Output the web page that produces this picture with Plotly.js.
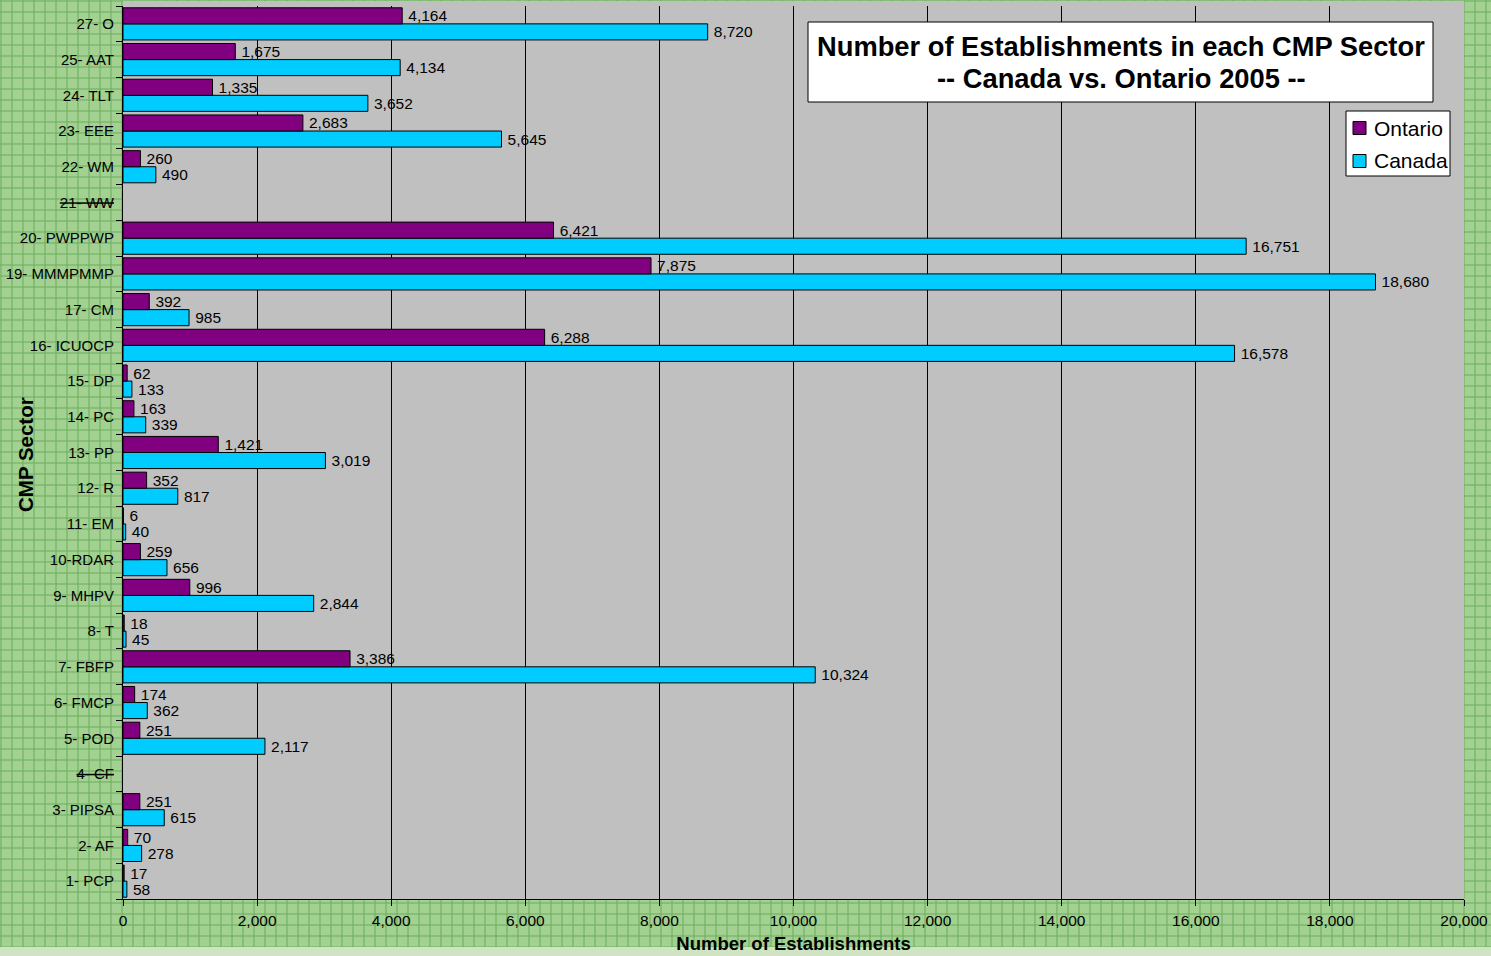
<!DOCTYPE html>
<html>
<head>
<meta charset="utf-8">
<script src="https://cdn.plot.ly/plotly-3.0.1.min.js"></script>
<style>
html, body { margin:0; padding:0; width:1491px; height:956px; overflow:hidden; }
body {
  background-color:#A3D192;
  background-image:
    linear-gradient(to bottom, rgba(0,0,0,0) 947px, #CFE4C2 947px),
    repeating-linear-gradient(to right, rgba(110,175,95,0.55) 0px, rgba(110,175,95,0.55) 2px, rgba(0,0,0,0) 2px, rgba(0,0,0,0) 11px),
    repeating-linear-gradient(to bottom, rgba(110,175,95,0.55) 0px, rgba(110,175,95,0.55) 2px, rgba(0,0,0,0) 2px, rgba(0,0,0,0) 11px);
}
#chart { width:1491px; height:956px; }
</style>
</head>
<body>
<div id="chart"></div>
<script>
// Categories from bottom to top
var categories = ["1- PCP","2- AF","3- PIPSA","4- CF","5- POD","6- FMCP","7- FBFP","8- T","9- MHPV","10-RDAR","11- EM","12- R","13- PP","14- PC","15- DP","16- ICUOCP","17- CM","19- MMMPMMP","20- PWPPWP","21- WW","22- WM","23- EEE","24- TLT","25- AAT","27- O"];
var ontario = [17,70,251,null,251,174,3386,18,996,259,6,352,1421,163,62,6288,392,7875,6421,null,260,2683,1335,1675,4164];
var canada  = [58,278,615,null,2117,362,10324,45,2844,656,40,817,3019,339,133,16578,985,18680,16751,null,490,5645,3652,4134,8720];
var struckCategories = ["4- CF","21- WW"];
var seriesNames = ["Ontario","Canada"];
var seriesColors = ["#800080","#00CCFF"];
var titleLines = ["Number of Establishments in each CMP Sector","-- Canada vs. Ontario 2005 --"];

var labels = categories.map(function(c){
  return struckCategories.indexOf(c) >= 0 ? "<span style='text-decoration:line-through'>" + c + "</span>" : c;
});

var FONT = "Arial, 'Liberation Sans', sans-serif";
var W = 1491, H = 956;
var M = {l:123, r:27, t:6, b:57};
var PW = W - M.l - M.r, PH = H - M.t - M.b;
function px(x){ return (x - M.l) / PW; }
function py(y){ return (H - M.b - y) / PH; }

function barTrace(name, vals, color){
  return {
    type:"bar", orientation:"h", name:name,
    y: labels, x: vals,
    marker:{color:color, line:{color:"#000000", width:1}},
    texttemplate:"\u2009%{x:,}", textposition:"outside", constraintext:"none", cliponaxis:false,
    textfont:{family:FONT, size:15.5, color:"#000000"},
    hoverinfo:"x+y", showlegend:false
  };
}

var traces = [
  barTrace(seriesNames[1], canada, seriesColors[1]),
  barTrace(seriesNames[0], ontario, seriesColors[0])
];

var shapes = [
  {type:"rect", xref:"paper", yref:"paper", x0:0, x1:1, y0:1, y1:py(1), fillcolor:"#C0C0C0", line:{width:0}, layer:"below"},
  // title box
  {type:"rect", xref:"paper", yref:"paper", x0:px(808), x1:px(1433), y0:py(102), y1:py(22), fillcolor:"#FFFFFF", line:{color:"#000000", width:1}},
  // legend box
  {type:"rect", xref:"paper", yref:"paper", x0:px(1346), x1:px(1450), y0:py(176), y1:py(111), fillcolor:"#FFFFFF", line:{color:"#000000", width:1}}
];
var annotations = [{
  xref:"paper", yref:"paper", x:px(25), y:py(455), xanchor:"center", yanchor:"middle",
  text:"<b>CMP Sector</b>", textangle:-90, showarrow:false,
  font:{family:FONT, size:20.5, color:"#000000"}
}];
[46, 78].forEach(function(cy, i){
  annotations.push({xref:"paper", yref:"paper", x:px(1121), y:py(cy), xanchor:"center", yanchor:"middle",
    text:"<b>" + titleLines[i] + "</b>", showarrow:false,
    font:{family:FONT, size:27.3, color:"#000000"}});
});
var legendRows = [128, 161];
seriesNames.forEach(function(n, i){
  var cy = legendRows[i];
  shapes.push({type:"rect", xref:"paper", yref:"paper", x0:px(1353), x1:px(1366), y0:py(cy+6.5), y1:py(cy-6.5),
    fillcolor:seriesColors[i], line:{color:"#000000", width:1}});
  annotations.push({xref:"paper", yref:"paper", x:px(1372), y:py(cy), xanchor:"left", yanchor:"middle",
    text:n, showarrow:false, font:{family:FONT, size:21, color:"#000000"}});
});

var layout = {
  width:W, height:H,
  margin:{l:M.l, r:M.r, t:M.t, b:M.b, pad:0},
  paper_bgcolor:"rgba(0,0,0,0)",
  plot_bgcolor:"#C0C0C0",
  barmode:"group", bargap:0.1, bargroupgap:0,
  font:{family:FONT, color:"#000000"},
  showlegend:false,
  xaxis:{
    range:[0,20000], dtick:2000, tickformat:",",
    showgrid:true, gridcolor:"#000000", gridwidth:1,
    showline:true, linecolor:"#000000", linewidth:1,
    ticks:"outside", ticklen:6, tickcolor:"#000000", tickwidth:1, ticklabelstandoff:1,
    tickfont:{family:FONT, size:15.5, color:"#000000"},
    zeroline:false, fixedrange:true,
    title:{text:"<b>Number of Establishments</b>", font:{family:FONT, size:18.5, color:"#000000"}, standoff:9}
  },
  yaxis:{
    type:"category", categoryorder:"array", categoryarray:labels,
    showline:true, linecolor:"#000000", linewidth:1,
    ticks:"outside", ticklen:6, tickcolor:"#000000", tickwidth:1, tickson:"boundaries",
    ticklabelstandoff:5,
    tickfont:{family:FONT, size:15, color:"#000000"},
    showgrid:false, fixedrange:true, automargin:false
  },
  shapes:shapes,
  annotations:annotations
};

Plotly.newPlot("chart", traces, layout, {displayModeBar:false, staticPlot:true});
</script>
</body>
</html>
